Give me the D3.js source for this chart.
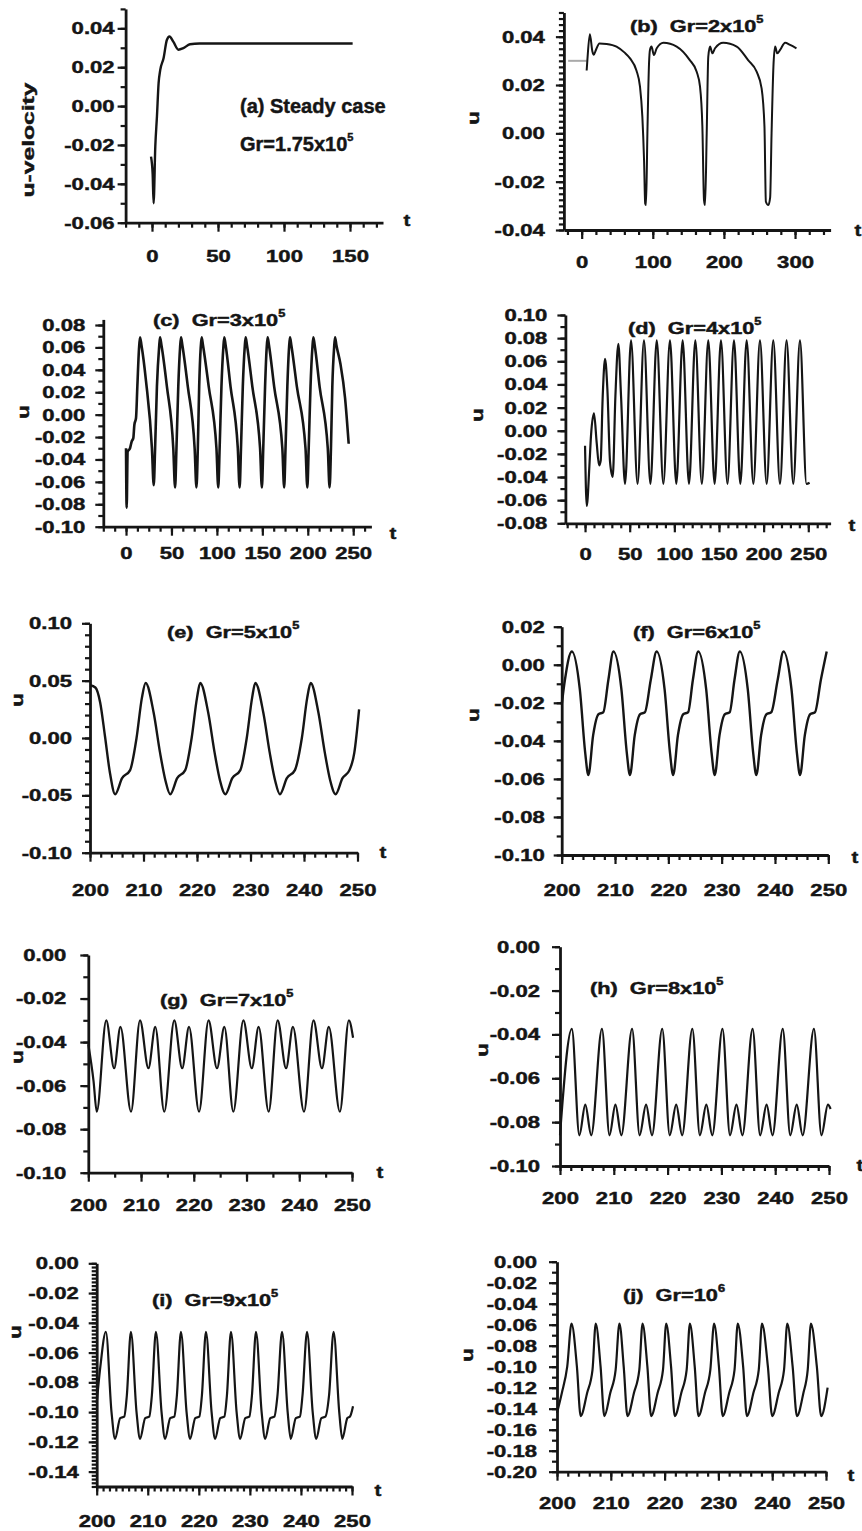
<!DOCTYPE html>
<html><head><meta charset="utf-8">
<script src="https://cdn.jsdelivr.net/npm/d3@7"></script>
<style>
body{margin:0;background:#fff;}
svg text{font-family:"Liberation Sans",Arial,sans-serif;font-weight:bold;fill:#151515;stroke:#151515;stroke-width:0.45px;white-space:pre;}
</style></head><body>
<svg id="c" width="862" height="1531"></svg>
<script>
// ---------- DATA (t, u) ----------
const seriesA = [[-0.75,-0.026],[0.5,-0.035],[1.2,-0.05],[2.5,-0.0207],[3.75,-0.0053],[5,0.0118],[6.25,0.0186],[8.75,0.0246],[11.25,0.034],[13.25,0.0358],[16.25,0.033],[20,0.029],[23.75,0.0298],[28.75,0.0318],[36,0.0322],[100,0.0322],[152,0.0322]];
const seriesBStub = [[-19,0.030],[7,0.030]];
const seriesB = [[7,0.026],[8,0.0303],[11.5,0.041],[15,0.034],[17,0.0325],[20,0.0345],[25,0.0372],[35,0.037],[49,0.0359],[60,0.0335],[68,0.031],[77,0.026],[82,0.0193],[85.3,0.0069],[87.7,-0.011],[89.3,-0.029],[90.5,-0.0297],[92.4,0.0],[94.7,0.029],[96,0.0345],[98.2,0.0359],[101.5,0.0324],[105.5,0.0352],[115,0.0375],[133.6,0.0359],[152,0.0303],[161.7,0.0255],[166.4,0.0193],[169.7,0.0028],[172,-0.0276],[173.5,-0.0297],[175.8,0],[178,0.0317],[180.5,0.0359],[183.8,0.0331],[187.5,0.0352],[199,0.0375],[218,0.0359],[234,0.0303],[246,0.0255],[253,0.0186],[257,0.0028],[259,-0.0283],[262.5,-0.0297],[265,-0.0265],[267,0.0],[269.6,0.0276],[272,0.0359],[275,0.0331],[279,0.0345],[286,0.0375],[293,0.0366],[302,0.0352]];
const seriesC = [[0,-0.030],[0.7,-0.083],[1.8,-0.033],[4.4,-0.030],[6.2,-0.024],[8,-0.021],[9.2,-0.009],[11,-0.003],[12.5,0.026],[14.3,0.059],[15.4,0.069],[17,0.062],[22,0.03],[28.5,-0.03],[30.5,-0.063],[32,-0.03],[34,0.025],[36.4,0.06],[37.4,0.069],[39,0.062],[45,0.025],[52,-0.03],[54,-0.065],[55.5,-0.03],[57.5,0.025],[59.5,0.06],[60.5,0.069],[62,0.062],[68,0.025],[75.5,-0.03],[77.5,-0.065],[79,-0.03],[80.5,0.025],[82.2,0.06],[83.2,0.069],[84.7,0.062],[91,0.025],[99.5,-0.03],[101.5,-0.065],[103,-0.03],[105,0.025],[107.1,0.06],[108.1,0.069],[109.6,0.062],[115,0.025],[123,-0.03],[125,-0.065],[126.5,-0.03],[128.5,0.025],[130.6,0.06],[131.6,0.069],[133.1,0.062],[139,0.025],[147.5,-0.03],[149.5,-0.065],[151,-0.03],[153,0.025],[154.8,0.06],[155.8,0.069],[157.3,0.062],[163,0.025],[172,-0.03],[174,-0.065],[175.5,-0.03],[177.5,0.025],[179.4,0.06],[180.4,0.069],[181.9,0.062],[188,0.025],[197.5,-0.03],[199.5,-0.065],[201,-0.03],[203,0.025],[205.1,0.06],[206.1,0.069],[207.6,0.062],[213,0.025],[222,-0.03],[224,-0.065],[225.5,-0.03],[227,0.025],[229,0.06],[230,0.069],[231.5,0.062],[236,0.045],[241,0.015],[245,-0.026]];
const seriesD = [[0,-0.013],[1.9,-0.065],[4.9,-0.03],[6.7,-0.004],[10,0.015],[13,-0.01],[15.7,-0.03],[17.5,-0.026],[19.8,0.03],[22.4,0.062],[25,0.036],[28,-0.027],[31,-0.04],[34,0.03],[37.3,0.075],[40.3,0.03],[44.8,-0.046],[51.5,0.078],[58.8,-0.046],[66,0.078],[73.2,-0.046],[80.3,0.078],[87.7,-0.046],[95.1,0.078],[102.2,-0.046],[109.3,0.078],[116.4,-0.046],[123.5,0.078],[130.8,-0.046],[138,0.078],[145.1,-0.046],[152.2,0.078],[159.5,-0.046],[166.8,0.078],[173.9,-0.046],[181,0.078],[188.5,-0.046],[195.9,0.078],[203.4,-0.046],[210.8,0.078],[218.3,-0.046],[225.7,0.078],[233.2,-0.046],[240.7,0.078],[248,-0.046],[251.5,-0.045]];
const seriesE = [[200,0.046],[201,0.044],[201.9,0.031],[202.8,0.0015],[203.75,-0.031],[204.7,-0.049],[206.0,-0.035],[207.5,-0.028],[208.7,0.0],[209.7,0.035],[210.4,0.048],[211.9,0.022],[213.1,-0.013],[214.1,-0.037],[215.0,-0.049],[216.3,-0.035],[217.8,-0.028],[219.0,0.0],[220.0,0.035],[220.6,0.048],[222.1,0.022],[223.3,-0.013],[224.3,-0.037],[225.3,-0.049],[226.6,-0.035],[228.1,-0.028],[229.3,0.0],[230.3,0.035],[230.9,0.048],[232.4,0.022],[233.6,-0.013],[234.6,-0.037],[235.5,-0.049],[236.8,-0.035],[238.3,-0.028],[239.6,0.0],[240.6,0.035],[241.25,0.048],[242.7,0.022],[243.9,-0.013],[244.9,-0.037],[245.9,-0.049],[247.2,-0.035],[248.5,-0.028],[249.4,-0.013],[250.3,0.025]];
const seriesF = [[200,-0.021],[200.6,-0.008],[201.9,0.007],[203.4,-0.013],[204.4,-0.046],[205,-0.058],[205.9,-0.037],[206.9,-0.026],[207.8,-0.025],[208.75,-0.008],[209.7,0.007],[211.2,-0.013],[212.2,-0.046],[212.8,-0.058],[213.7,-0.037],[214.7,-0.026],[215.6,-0.025],[216.7,-0.008],[217.8,0.007],[219.3,-0.013],[220.3,-0.046],[220.9,-0.058],[221.8,-0.037],[222.8,-0.026],[223.7,-0.025],[224.6,-0.008],[225.6,0.007],[227.1,-0.013],[228.1,-0.046],[228.7,-0.058],[229.6,-0.037],[230.6,-0.026],[231.5,-0.025],[232.4,-0.008],[233.4,0.007],[234.9,-0.013],[235.9,-0.046],[236.5,-0.058],[237.4,-0.037],[238.4,-0.026],[239.3,-0.025],[240.5,-0.008],[241.6,0.007],[243.1,-0.013],[244.1,-0.046],[244.7,-0.058],[245.6,-0.037],[246.6,-0.026],[247.5,-0.025],[248.6,-0.008],[249.7,0.007]];
const seriesG = [[200,-0.041],[201,-0.058],[201.6,-0.072],[203.4,-0.030],[204.9,-0.052],[206.1,-0.033],[208.1,-0.072],[209.8,-0.030],[211.4,-0.052],[212.7,-0.033],[214.4,-0.072],[216.3,-0.030],[217.8,-0.052],[219.1,-0.033],[221,-0.072],[222.8,-0.030],[224.4,-0.052],[225.8,-0.033],[227.5,-0.072],[229.4,-0.030],[231,-0.052],[232.3,-0.033],[234.2,-0.072],[235.9,-0.030],[237.5,-0.052],[238.8,-0.033],[240.9,-0.072],[242.7,-0.030],[244.3,-0.052],[245.6,-0.033],[247.7,-0.072],[249.4,-0.030],[250.2,-0.038]];
const seriesH = [[200,-0.086],[202.2,-0.0375],[203.6,-0.086],[204.7,-0.072],[205.8,-0.086],[207.8,-0.0375],[209.2,-0.086],[210.3,-0.072],[211.4,-0.086],[213.4,-0.0375],[214.8,-0.086],[216.0,-0.072],[217.1,-0.086],[219.0,-0.0375],[220.4,-0.086],[221.6,-0.072],[222.7,-0.086],[224.6,-0.0375],[226.0,-0.086],[227.2,-0.072],[228.3,-0.086],[230.2,-0.0375],[231.6,-0.086],[232.8,-0.072],[233.9,-0.086],[235.8,-0.0375],[237.2,-0.086],[238.4,-0.072],[239.5,-0.086],[241.4,-0.0375],[242.8,-0.086],[244.0,-0.072],[245.1,-0.086],[247.2,-0.0375],[248.6,-0.086],[249.8,-0.072],[250.3,-0.074]];
const seriesI = [[200,-0.094],[200.7,-0.07],[201.8,-0.046],[202.9,-0.1],[203.6,-0.118],[204.6,-0.104],[205.4,-0.103],[205.9,-0.089],[206.7,-0.046],[207.8,-0.1],[208.5,-0.118],[209.5,-0.104],[210.3,-0.103],[210.8,-0.089],[211.6,-0.046],[212.7,-0.1],[213.4,-0.118],[214.4,-0.104],[215.2,-0.103],[215.7,-0.089],[216.5,-0.046],[217.6,-0.1],[218.3,-0.118],[219.3,-0.104],[220.1,-0.103],[220.6,-0.089],[221.4,-0.046],[222.5,-0.1],[223.2,-0.118],[224.2,-0.104],[225.0,-0.103],[225.5,-0.089],[226.3,-0.046],[227.4,-0.1],[228.1,-0.118],[229.1,-0.104],[229.9,-0.103],[230.4,-0.089],[231.2,-0.046],[232.3,-0.1],[233.0,-0.118],[234.0,-0.104],[234.8,-0.103],[235.4,-0.089],[236.3,-0.046],[237.4,-0.1],[238.0,-0.118],[239.0,-0.104],[239.8,-0.103],[240.3,-0.089],[241.2,-0.046],[242.3,-0.1],[243.0,-0.118],[244.0,-0.104],[244.8,-0.103],[245.5,-0.089],[246.4,-0.046],[247.5,-0.1],[248.1,-0.118],[249.1,-0.104],[249.6,-0.103],[250.2,-0.096]];
const seriesJ = [[200,-0.144],[200.9,-0.125],[201.9,-0.1],[202.7,-0.059],[203.7,-0.1],[204.4,-0.147],[205.6,-0.125],[206.6,-0.103],[207.2,-0.059],[208.1,-0.1],[208.8,-0.147],[209.9,-0.125],[210.9,-0.103],[211.6,-0.059],[212.4,-0.1],[213.1,-0.147],[214.3,-0.125],[215.3,-0.103],[215.9,-0.059],[216.8,-0.1],[217.5,-0.147],[218.7,-0.125],[219.7,-0.103],[220.3,-0.059],[221.2,-0.1],[221.9,-0.147],[223.1,-0.125],[224.1,-0.103],[224.7,-0.059],[225.6,-0.1],[226.3,-0.147],[227.5,-0.125],[228.5,-0.103],[229.2,-0.059],[230.1,-0.1],[230.8,-0.147],[232.0,-0.125],[233.0,-0.103],[233.6,-0.059],[234.6,-0.1],[235.3,-0.147],[236.5,-0.125],[237.5,-0.103],[238.1,-0.059],[239.2,-0.1],[240.0,-0.147],[241.2,-0.125],[242.2,-0.103],[242.8,-0.059],[243.8,-0.1],[244.6,-0.147],[245.8,-0.125],[246.6,-0.103],[247.2,-0.059],[248.3,-0.1],[249.1,-0.147],[250.3,-0.12]];

// ---------- tick values ----------
const xTicksA = [0,50,100,150];
const yTicksA = [-0.06,-0.04,-0.02,0.00,0.02,0.04];
const xTicksB = [0,100,200,300];
const yTicksB = [-0.04,-0.02,0.00,0.02,0.04];
const xTicksCD = [0,50,100,150,200,250];
const yTicksC = [-0.10,-0.08,-0.06,-0.04,-0.02,0.00,0.02,0.04,0.06,0.08];
const yTicksD = [-0.08,-0.06,-0.04,-0.02,0.00,0.02,0.04,0.06,0.08,0.10];
const xTicksLate = [200,210,220,230,240,250];
const yTicksE = [-0.10,-0.05,0.00,0.05,0.10];
const yTicksF = [-0.10,-0.08,-0.06,-0.04,-0.02,0.00,0.02];
const yTicksGH = [-0.10,-0.08,-0.06,-0.04,-0.02,0.00];
const yTicksI = [-0.14,-0.12,-0.10,-0.08,-0.06,-0.04,-0.02,0.00];
const yTicksJ = [-0.20,-0.18,-0.16,-0.14,-0.12,-0.10,-0.08,-0.06,-0.04,-0.02,0.00];

// ---------- labels ----------
const titles = ["(a) Steady case","(b)  Gr=2x10","(c)  Gr=3x10","(d)  Gr=4x10","(e)  Gr=5x10","(f)  Gr=6x10","(g)  Gr=7x10","(h)  Gr=8x10","(i)  Gr=9x10","(j)  Gr=10"];
const supers = ["5","5","5","5","5","5","5","5","5","6"];
const subTitleA = "Gr=1.75x10";
const yLabels = ["u-velocity","u","u","u","u","u","u","u","u","u"];

// ---------- layout ----------
const rng = (a,b,s) => d3.range(Math.round((b-a)/s)+1).map(i => +(a+i*s).toFixed(6));
const panels = [
 {data:[seriesA], xD:[-20,175], xR:[125.6,383], yD:[-0.06,0.05], yR:[222.7,8.9], xM:xTicksA, xm:rng(-20,170,10), yM:yTicksA, ym:rng(-0.06,0.05,0.01), xPad:18, yGap:11, lw:2.4,
  title:[240,113], uPos:[28,140], tPos:[407,220]},
 {data:[seriesB], stub:seriesBStub, xD:[-25,350], xR:[563.9,830.6], yD:[-0.04,0.05], yR:[230,12.5], xM:xTicksB, xm:rng(-20,340,20), yM:yTicksB, ym:rng(-0.04,0.05,0.0025), xPad:17, yGap:19, lw:2,
  title:[630,32], uPos:[473,118], tPos:[858,230]},
 {data:[seriesC], xD:[-25,270], xR:[103.3,371.4], yD:[-0.10,0.085], yR:[526.7,319.4], xM:xTicksCD, xm:rng(-25,262.5,12.5), yM:yTicksC, ym:rng(-0.10,0.08,0.01), xPad:11, yGap:18, lw:2.6,
  title:[153,326], uPos:[23,412], tPos:[393,533]},
 {data:[seriesD], xD:[-22,275], xR:[565.4,830.6], yD:[-0.08,0.10], yR:[523.3,315], xM:xTicksCD, xm:rng(-20,270,10), yM:yTicksD, ym:rng(-0.08,0.10,0.01), xPad:16, yGap:18, lw:2.2,
  title:[628,334], uPos:[477,415], tPos:[852,525]},
 {data:[seriesE], xD:[200,250], xR:[90,357.5], yD:[-0.10,0.10], yR:[852.7,623.3], xM:xTicksLate, xm:rng(200,250,2), yM:yTicksE, ym:rng(-0.10,0.10,0.01), xPad:22, yGap:18, lw:2.4,
  title:[167,638], uPos:[17,700], tPos:[383,852]},
 {data:[seriesF], xD:[200,250], xR:[561.7,828.3], yD:[-0.10,0.02], yR:[855,626.7], xM:xTicksLate, xm:rng(200,250,2), yM:yTicksF, ym:rng(-0.10,0.02,0.01), xPad:20, yGap:17, lw:2.4,
  title:[633,638], uPos:[473,715], tPos:[855,857]},
 {data:[seriesG], xD:[200,250], xR:[88.3,352], yD:[-0.10,0.00], yR:[1172.7,955], xM:xTicksLate, xm:rng(200,250,5), yM:yTicksGH, ym:rng(-0.10,0.00,0.01), xPad:17, yGap:22, lw:2.2,
  title:[160,1006], uPos:[17,1057], tPos:[380,1172]},
 {data:[seriesH], xD:[200,250], xR:[560,829], yD:[-0.10,0.00], yR:[1166,946.7], xM:xTicksLate, xm:rng(200,250,2), yM:yTicksGH, ym:rng(-0.10,0.00,0.01), xPad:17, yGap:20, lw:2.2,
  title:[590,994], uPos:[482,1050], tPos:[860,1165]},
 {data:[seriesI], xD:[200,250], xR:[96.7,352], yD:[-0.15,0.00], yR:[1486.5,1263.3], xM:xTicksLate, xm:rng(200,250,1.25), yM:yTicksI, ym:rng(-0.15,0.00,0.0025), xPad:19, yGap:18, lw:2.2,
  title:[152,1306], uPos:[15,1332], tPos:[378,1490]},
 {data:[seriesJ], xD:[200,250], xR:[557,826], yD:[-0.20,0.00], yR:[1471.7,1261.7], xM:xTicksLate, xm:rng(200,250,2), yM:yTicksJ, ym:rng(-0.20,0.00,0.01), xPad:16, yGap:20, lw:2.2,
  title:[623,1301], uPos:[467,1355], tPos:[851,1475]}
];

const svg = d3.select("#c");
const INK = "#151515";
const TICK_FS = 17, TICK_SX = 1.3;
const fmt2 = v => (Math.abs(v) < 1e-9 ? 0 : v).toFixed(2);

function styleAxis(sel){
  sel.attr("font-family", null).attr("font-size", null);
  sel.select(".domain").attr("stroke", INK).attr("stroke-width", 2.8);
  sel.selectAll(".tick line").attr("stroke", INK).attr("stroke-width", 2.2);
}

panels.forEach((p, i) => {
  const x = d3.scaleLinear().domain(p.xD).range(p.xR);
  const y = d3.scaleLinear().domain(p.yD).range(p.yR);
  const g = svg.append("g");

  // x minor / major
  const xm = g.append("g").attr("transform", `translate(0,${p.yR[0]})`)
    .call(d3.axisBottom(x).tickValues(p.xm).tickSize(5).tickSizeOuter(0).tickFormat(""));
  styleAxis(xm); xm.select(".domain").remove();
  const xa = g.append("g").attr("transform", `translate(0,${p.yR[0]})`)
    .call(d3.axisBottom(x).tickValues(p.xM).tickSize(9).tickSizeOuter(0).tickPadding(p.xPad).tickFormat(d => String(d)));
  styleAxis(xa);
  xa.selectAll("text").style("font-size", TICK_FS+"px").attr("fill", INK)
    .attr("transform", `scale(${TICK_SX},1)`);

  // y minor / major
  const ym = g.append("g").attr("transform", `translate(${p.xR[0]},0)`)
    .call(d3.axisLeft(y).tickValues(p.ym).tickSize(5).tickSizeOuter(0).tickFormat(""));
  styleAxis(ym); ym.select(".domain").remove();
  const ya = g.append("g").attr("transform", `translate(${p.xR[0]},0)`)
    .call(d3.axisLeft(y).tickValues(p.yM).tickSize(8).tickSizeOuter(0).tickFormat(fmt2));
  styleAxis(ya);
  ya.selectAll("text").style("font-size", TICK_FS+"px").attr("fill", INK)
    .attr("x", -p.yGap / TICK_SX).attr("transform", `scale(${TICK_SX},1)`);

  // curves
  const line = d3.line().x(d => x(d[0])).y(d => y(d[1])).curve(d3.curveMonotoneX);
  if (p.stub) {
    g.append("path").datum(p.stub).attr("d", line).attr("fill","none").attr("stroke","#aaa").attr("stroke-width",2);
  }
  p.data.forEach(s => {
    g.append("path").datum(s).attr("d", line).attr("fill","none").attr("stroke", INK)
      .attr("stroke-width", p.lw).attr("stroke-linejoin","round");
  });

  // title
  if (i === 0) {
    g.append("text").attr("transform", `translate(${p.title[0]},${p.title[1]}) scale(1.0,1)`)
      .style("font-size","20px").text(titles[0]);
    const t2 = g.append("text").attr("transform", `translate(${p.title[0]},${p.title[1]+38}) scale(1.0,1)`)
      .style("font-size","20px");
    t2.append("tspan").text(subTitleA);
    t2.append("tspan").attr("dy", -10).style("font-size","11px").text(supers[0]);
  } else {
    const t = g.append("text").attr("transform", `translate(${p.title[0]},${p.title[1]}) scale(1.28,1)`)
      .style("font-size","17px");
    t.append("tspan").text(titles[i]);
    t.append("tspan").attr("dy", -9).style("font-size","10px").text(supers[i]);
  }

  // axis labels
  g.append("text").attr("transform", `translate(${p.uPos[0]},${p.uPos[1]}) rotate(-90) scale(${i===0?1.45:1.3},1)`)
    .attr("text-anchor","middle").attr("dy","0.35em").style("font-size","17px").text(yLabels[i]);
  g.append("text").attr("transform", `translate(${p.tPos[0]},${p.tPos[1]}) scale(1.2,1)`)
    .attr("text-anchor","middle").attr("dy","0.35em").style("font-size","17px").text("t");
});
</script>
</body></html>
